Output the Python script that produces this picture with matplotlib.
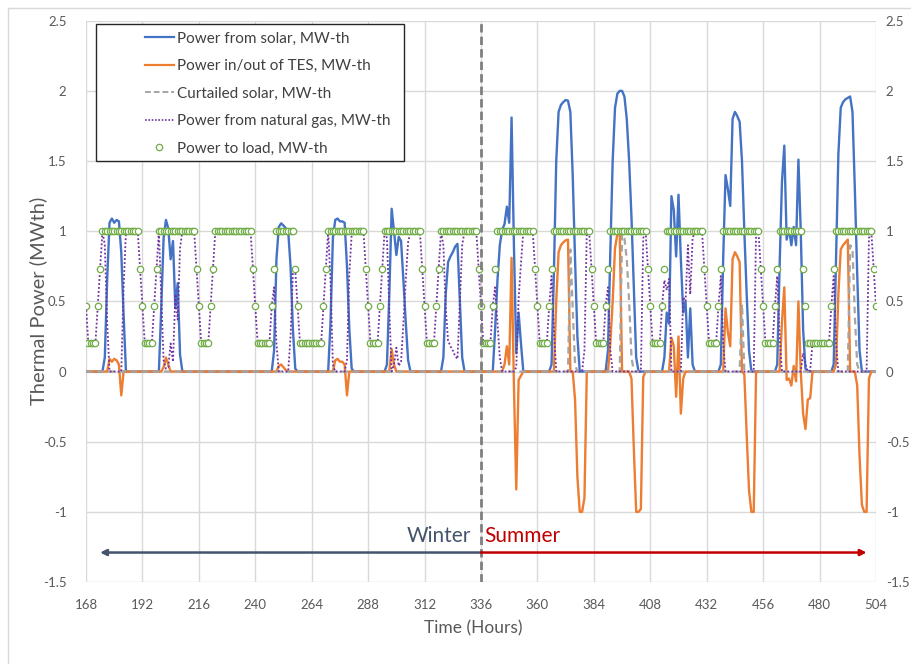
import numpy as np
import matplotlib
matplotlib.use('Agg')
import matplotlib.pyplot as plt
from matplotlib.lines import Line2D
from matplotlib.patches import Rectangle
from matplotlib.ticker import FuncFormatter

plt.rcParams['font.family'] = ['Lato', 'DejaVu Sans']
plt.rcParams['axes.unicode_minus'] = False

# hourly values, one row per day (hours 168..503) plus the last hour 504
hours = np.arange(168, 505)

solar = [
    0, 0, 0, 0, 0, 0, 0, 0, 0.1, 0.65, 1.06, 1.09, 1.06, 1.08, 1.07, 0.85, 0.4, 0, 0, 0, 0, 0, 0, 0,          # 168
    0, 0, 0, 0, 0, 0, 0, 0, 0.45, 0.95, 1.08, 1.02, 0.8, 0.93, 0.45, 0.63, 0.12, 0, 0, 0, 0, 0, 0, 0,        # 192
    0, 0, 0, 0, 0, 0, 0, 0, 0, 0, 0, 0, 0, 0, 0, 0, 0, 0, 0, 0, 0, 0, 0, 0,                                  # 216
    0, 0, 0, 0, 0, 0, 0, 0, 0.15, 0.8, 1.03, 1.056, 1.04, 1.02, 1.0, 0.75, 0.3, 0.02, 0, 0, 0, 0, 0, 0,      # 240
    0, 0, 0, 0, 0, 0, 0, 0, 0.35, 0.95, 1.08, 1.09, 1.07, 1.07, 1.06, 0.75, 0.3, 0.02, 0, 0, 0, 0, 0, 0,     # 264
    0, 0, 0, 0, 0, 0, 0, 0, 0.05, 0.55, 1.16, 1.0, 0.83, 0.96, 0.93, 0.65, 0.35, 0.08, 0, 0, 0, 0, 0, 0,     # 288
    0, 0, 0, 0, 0, 0, 0, 0, 0.1, 0.55, 0.78, 0.82, 0.85, 0.89, 0.91, 0.5, 0.1, 0, 0, 0, 0, 0, 0, 0,          # 312
    0, 0, 0, 0, 0, 0, 0.3, 0.65, 0.9, 1.01, 1.05, 1.175, 1.06, 1.81, 0.9, 0.13, 0.42, 0.2, 0, 0, 0, 0, 0, 0,  # 336
    0, 0, 0, 0, 0, 0, 0.05, 0.7, 1.5, 1.85, 1.9, 1.92, 1.935, 1.93, 1.85, 1.4, 0.8, 0.25, 0, 0, 0, 0, 0, 0,  # 360
    0, 0, 0, 0, 0, 0, 0.15, 0.85, 1.5, 1.88, 1.98, 2.0, 2.0, 1.96, 1.8, 1.5, 1.1, 0.6, 0.1, 0, 0, 0, 0, 0,   # 384
    0, 0, 0, 0, 0, 0, 0.1, 0.42, 0.34, 1.25, 1.15, 0.82, 1.26, 0.8, 0.42, 0.5, 0.1, 0.45, 0.05, 0, 0, 0, 0, 0,  # 408
    0, 0, 0, 0, 0, 0, 0.05, 0.8, 1.4, 1.3, 1.18, 1.8, 1.85, 1.82, 1.78, 1.5, 1.0, 0.55, 0.15, 0, 0, 0, 0, 0,  # 432
    0, 0, 0, 0, 0, 0, 0.05, 0.75, 1.35, 1.61, 0.94, 1.02, 0.9, 1.03, 0.9, 1.51, 1.0, 0.3, 0.02, 0, 0, 0, 0, 0,  # 456
    0, 0, 0, 0, 0, 0, 0.05, 0.8, 1.55, 1.88, 1.92, 1.94, 1.95, 1.96, 1.85, 1.3, 0.7, 0.15, 0, 0, 0, 0, 0, 0,  # 480
    0,
]

tes = [
    0, 0, 0, 0, 0, 0, 0, 0, 0, 0, 0.09, 0.07, 0.09, 0.08, 0.05, -0.17, 0, 0, 0, 0, 0, 0, 0, 0,
    0, 0, 0, 0, 0, 0, 0, 0, 0, 0.03, 0.1, 0.05, 0, 0, 0, 0, 0, 0, 0, 0, 0, 0, 0, 0,
    0, 0, 0, 0, 0, 0, 0, 0, 0, 0, 0, 0, 0, 0, 0, 0, 0, 0, 0, 0, 0, 0, 0, 0,
    0, 0, 0, 0, 0, 0, 0, 0, 0, 0, 0.04, 0.05, 0.03, 0.01, 0, 0, 0, 0, 0, 0, 0, 0, 0, 0,
    0, 0, 0, 0, 0, 0, 0, 0, 0, 0, 0.08, 0.09, 0.07, 0.07, 0.05, -0.17, 0, 0, 0, 0, 0, 0, 0, 0,
    0, 0, 0, 0, 0, 0, 0, 0, 0, 0, 0.16, 0.05, 0, 0, 0, 0, 0, 0, 0, 0, 0, 0, 0, 0,
    0, 0, 0, 0, 0, 0, 0, 0, 0, 0, 0, 0, 0, 0, 0, 0, 0, 0, 0, 0, 0, 0, 0, 0,
    0, 0, 0, 0, 0, 0, 0, 0, 0, 0, 0.05, 0.18, 0.05, 0.81, -0.1, -0.84, -0.06, -0.03, 0, 0, 0, 0, 0, 0,
    0, 0, 0, 0, 0, 0, 0, 0, 0.5, 0.85, 0.9, 0.92, 0.935, 0.94, 0, 0, -0.2, -0.75, -1.0, -1.0, -0.9, 0, 0, 0,
    0, 0, 0, 0, 0, 0, 0, 0.2, 0.5, 0.88, 0.98, 1.0, 0, 0, 0, 0, -0.05, -0.55, -1.0, -1.0, -0.98, -0.04, 0, 0,
    0, 0, 0, 0, 0, 0, 0, 0, 0, 0.24, 0.18, -0.18, 0.25, -0.3, -0.05, 0, 0, 0, 0, 0, 0, 0, 0, 0,
    0, 0, 0, 0, 0, 0, 0, 0, 0.45, 0.28, 0.18, 0.8, 0.85, 0.82, 0.78, 0, -0.02, -0.45, -0.85, -1.0, -1.0, 0, 0, 0,
    0, 0, 0, 0, 0, 0, 0, 0, 0.35, 0.6, -0.06, -0.05, -0.1, 0.04, -0.07, 0.5, 0, -0.3, -0.41, -0.2, -0.19, 0, 0, 0,
    0, 0, 0, 0, 0, 0, 0, 0.05, 0.55, 0.87, 0.9, 0.92, 0.94, 0, 0, 0, -0.1, -0.6, -0.95, -1.0, -1.0, -0.05, 0, 0,
    0,
]

curtailed = [
    0, 0, 0, 0, 0, 0, 0, 0, 0, 0, 0, 0, 0, 0, 0, 0, 0, 0, 0, 0, 0, 0, 0, 0,
    0, 0, 0, 0, 0, 0, 0, 0, 0, 0, 0, 0, 0, 0, 0, 0, 0, 0, 0, 0, 0, 0, 0, 0,
    0, 0, 0, 0, 0, 0, 0, 0, 0, 0, 0, 0, 0, 0, 0, 0, 0, 0, 0, 0, 0, 0, 0, 0,
    0, 0, 0, 0, 0, 0, 0, 0, 0, 0, 0, 0, 0, 0, 0, 0, 0, 0, 0, 0, 0, 0, 0, 0,
    0, 0, 0, 0, 0, 0, 0, 0, 0, 0, 0, 0, 0, 0, 0, 0, 0, 0, 0, 0, 0, 0, 0, 0,
    0, 0, 0, 0, 0, 0, 0, 0, 0, 0, 0, 0, 0, 0, 0, 0, 0, 0, 0, 0, 0, 0, 0, 0,
    0, 0, 0, 0, 0, 0, 0, 0, 0, 0, 0, 0, 0, 0, 0, 0, 0, 0, 0, 0, 0, 0, 0, 0,
    0, 0, 0, 0, 0, 0, 0, 0, 0, 0, 0, 0, 0, 0, 0, 0, 0, 0, 0, 0, 0, 0, 0, 0,
    0, 0, 0, 0, 0, 0, 0, 0, 0, 0, 0, 0, 0, 0, 0.87, 0.45, 0.05, 0, 0, 0, 0, 0, 0, 0,
    0, 0, 0, 0, 0, 0, 0, 0, 0, 0, 0, 0, 0.98, 0.95, 0.8, 0.5, 0.1, 0, 0, 0, 0, 0, 0, 0,
    0, 0, 0, 0, 0, 0, 0, 0, 0, 0, 0, 0, 0, 0, 0, 0, 0, 0, 0, 0, 0, 0, 0, 0,
    0, 0, 0, 0, 0, 0, 0, 0, 0, 0, 0, 0, 0, 0, 0, 0.48, 0, 0, 0, 0, 0, 0, 0, 0,
    0, 0, 0, 0, 0, 0, 0, 0, 0, 0, 0, 0, 0, 0, 0, 0, 0, 0, 0, 0, 0, 0, 0, 0,
    0, 0, 0, 0, 0, 0, 0, 0, 0, 0, 0, 0, 0, 0.9, 0.88, 0.4, 0.05, 0, 0, 0, 0, 0, 0, 0,
    0,
]

gas = [
    0.467, 0.2, 0.2, 0.2, 0.2, 0.467, 0.733, 1.0, 0.9, 0.35, 0, 0, 0, 0, 0, 0, 0.6, 1, 1, 1, 1, 1, 1, 0.733,
    0.467, 0.2, 0.2, 0.2, 0.2, 0.467, 0.733, 1.0, 0.55, 0.08, 0.02, 0.03, 0.2, 0.07, 0.55, 0.37, 0.88, 1, 1, 1, 1, 1, 1, 0.733,
    0.467, 0.2, 0.2, 0.2, 0.2, 0.467, 0.733, 1, 1, 1, 1, 1, 1, 1, 1, 1, 1, 1, 1, 1, 1, 1, 1, 0.733,
    0.467, 0.2, 0.2, 0.2, 0.2, 0.2, 0.2, 0.467, 0.6, 0.2, 0, 0, 0, 0, 0, 0.25, 0.7, 0.72, 0.467, 0.2, 0.2, 0.2, 0.2, 0.2,
    0.2, 0.2, 0.2, 0.2, 0.2, 0.467, 0.733, 1.0, 0.65, 0.05, 0, 0, 0, 0, 0, 0.08, 0.7, 0.98, 1, 1, 1, 1, 1, 0.733,
    0.467, 0.2, 0.2, 0.2, 0.2, 0.467, 0.733, 1.0, 0.95, 0.45, 0, 0.05, 0.17, 0.04, 0.07, 0.35, 0.65, 0.92, 1, 1, 1, 1, 1, 0.733,
    0.467, 0.2, 0.2, 0.2, 0.2, 0.467, 0.733, 1.0, 0.9, 0.45, 0.22, 0.18, 0.15, 0.11, 0.09, 0.5, 0.9, 1, 1, 1, 1, 1, 1, 0.733,
    0.467, 0.2, 0.2, 0.2, 0.2, 0.467, 0.6, 0.35, 0.1, 0, 0, 0, 0, 0, 0, 0.03, 0.52, 0.77, 1, 1, 1, 1, 1, 0.733,
    0.467, 0.2, 0.2, 0.2, 0.2, 0.467, 0.68, 0.3, 0, 0, 0, 0, 0, 0, 0, 0, 0, 0, 0, 0, 0.15, 1, 1, 0.733,
    0.467, 0.2, 0.2, 0.2, 0.2, 0.467, 0.6, 0.15, 0, 0, 0, 0, 0, 0, 0, 0, 0, 0, 0, 0, 0, 0.95, 1, 0.733,
    0.467, 0.2, 0.2, 0.2, 0.2, 0.467, 0.65, 0.58, 0.66, 0, 0, 0, 0, 0, 0.53, 0.5, 0.9, 0.55, 0.95, 1, 1, 1, 1, 0.733,
    0.467, 0.2, 0.2, 0.2, 0.2, 0.467, 0.68, 0.2, 0, 0, 0, 0, 0, 0, 0, 0, 0, 0, 0, 0, 0, 1, 1, 0.733,
    0.467, 0.2, 0.2, 0.2, 0.2, 0.467, 0.68, 0.25, 0, 0, 0, 0, 0, 0, 0, 0, 0, 0.13, 0.05, 0, 0.01, 0.2, 0.2, 0.2,
    0.2, 0.2, 0.2, 0.2, 0.2, 0.467, 0.68, 0.2, 0, 0, 0, 0, 0, 0, 0, 0, 0, 0, 0, 0, 0, 0.95, 1, 0.733,
    0.467,
]

load = [
    0.467, 0.2, 0.2, 0.2, 0.2, 0.467, 0.733, 1, 1, 1, 1, 1, 1, 1, 1, 1, 1, 1, 1, 1, 1, 1, 1, 0.733,
    0.467, 0.2, 0.2, 0.2, 0.2, 0.467, 0.733, 1, 1, 1, 1, 1, 1, 1, 1, 1, 1, 1, 1, 1, 1, 1, 1, 0.733,
    0.467, 0.2, 0.2, 0.2, 0.2, 0.467, 0.733, 1, 1, 1, 1, 1, 1, 1, 1, 1, 1, 1, 1, 1, 1, 1, 1, 0.733,
    0.467, 0.2, 0.2, 0.2, 0.2, 0.2, 0.2, 0.467, 0.733, 1, 1, 1, 1, 1, 1, 1, 1, 0.733, 0.467, 0.2, 0.2, 0.2, 0.2, 0.2,
    0.2, 0.2, 0.2, 0.2, 0.2, 0.467, 0.733, 1, 1, 1, 1, 1, 1, 1, 1, 1, 1, 1, 1, 1, 1, 1, 1, 0.733,
    0.467, 0.2, 0.2, 0.2, 0.2, 0.467, 0.733, 1, 1, 1, 1, 1, 1, 1, 1, 1, 1, 1, 1, 1, 1, 1, 1, 0.733,
    0.467, 0.2, 0.2, 0.2, 0.2, 0.467, 0.733, 1, 1, 1, 1, 1, 1, 1, 1, 1, 1, 1, 1, 1, 1, 1, 1, 0.733,
    0.467, 0.2, 0.2, 0.2, 0.2, 0.467, 0.733, 1, 1, 1, 1, 1, 1, 1, 1, 1, 1, 1, 1, 1, 1, 1, 1, 0.733,
    0.467, 0.2, 0.2, 0.2, 0.2, 0.467, 0.733, 1, 1, 1, 1, 1, 1, 1, 1, 1, 1, 1, 1, 1, 1, 1, 1, 0.733,
    0.467, 0.2, 0.2, 0.2, 0.2, 0.467, 0.733, 1, 1, 1, 1, 1, 1, 1, 1, 1, 1, 1, 1, 1, 1, 1, 1, 0.733,
    0.467, 0.2, 0.2, 0.2, 0.2, 0.467, 0.733, 1, 1, 1, 1, 1, 1, 1, 1, 1, 1, 1, 1, 1, 1, 1, 1, 0.733,
    0.467, 0.2, 0.2, 0.2, 0.2, 0.467, 0.733, 1, 1, 1, 1, 1, 1, 1, 1, 1, 1, 1, 1, 1, 1, 1, 1, 0.733,
    0.467, 0.2, 0.2, 0.2, 0.2, 0.467, 0.733, 1, 1, 1, 1, 1, 1, 1, 1, 1, 1, 0.733, 0.467, 0.2, 0.2, 0.2, 0.2, 0.2,
    0.2, 0.2, 0.2, 0.2, 0.2, 0.467, 0.733, 1, 1, 1, 1, 1, 1, 1, 1, 1, 1, 1, 1, 1, 1, 1, 1, 0.733,
    0.467,
]

x_ticks = list(range(168, 505, 24))
y_ticks = [-1.5, -1, -0.5, 0, 0.5, 1, 1.5, 2, 2.5]
labels = ['Power from solar, MW-th', 'Power in/out of TES, MW-th', 'Curtailed solar, MW-th',
          'Power from natural gas, MW-th', 'Power to load, MW-th']

c_solar = '#4472C4'
c_tes = '#ED7D31'
c_curt = '#A5A5A5'
c_gas = '#7030A0'
c_load = '#70AD47'
c_text = '#595959'
c_grid = '#D9D9D9'

fig = plt.figure(figsize=(9.12, 6.64), dpi=100)
ax = fig.add_axes([86 / 912, 82 / 664, 790 / 912, 561.3 / 664])

ax.plot(hours, solar, color=c_solar, lw=1.7, zorder=3)
ax.plot(hours, tes, color=c_tes, lw=1.7, zorder=3)
ax.plot(hours, curtailed, color=c_curt, lw=1.6, ls=(0, (3, 2)), zorder=3)
ax.plot(hours, gas, color=c_gas, lw=1.3, ls=(0, (1, 1.2)), zorder=3)
ax.plot(hours, load, ls='none', marker='o', ms=4.6, mfc='white', mec=c_load, mew=0.9, zorder=4)

ax.set_xlim(168, 504)
ax.set_ylim(-1.5, 2.5)
ax.set_xticks(x_ticks)
ax.set_yticks(y_ticks)
ax.grid(True, color=c_grid, lw=1)
ax.set_axisbelow(True)
for s in ax.spines.values():
    s.set_visible(False)
fmt = FuncFormatter(lambda v, p: '%g' % v)
ax.yaxis.set_major_formatter(fmt)
ax.tick_params(axis='both', length=0, labelsize=9.5, labelcolor=c_text)
ax.tick_params(axis='x', pad=12)
ax.tick_params(axis='y', pad=14)

ax2 = ax.twinx()
ax2.set_ylim(-1.5, 2.5)
ax2.set_yticks(y_ticks)
ax2.yaxis.set_major_formatter(fmt)
ax2.tick_params(axis='y', length=0, labelsize=9.5, labelcolor=c_text, pad=7)
for s in ax2.spines.values():
    s.set_visible(False)

# winter / summer divider
ax.axvline(336, color='#7F7F7F', lw=2, ls=(0, (3, 1.5)), zorder=5)
ax.annotate('', xy=(174, -1.29), xytext=(336, -1.29),
            arrowprops=dict(arrowstyle='-|>', color='#44546A', lw=1.8, mutation_scale=9,
                            shrinkA=0, shrinkB=0), zorder=5)
ax.annotate('', xy=(500, -1.29), xytext=(336, -1.29),
            arrowprops=dict(arrowstyle='-|>', color='#C00000', lw=1.8, mutation_scale=9,
                            shrinkA=0, shrinkB=0), zorder=5)
ax.text(331.8, -1.17, 'Winter', color='#44546A', fontsize=15, ha='right', va='center')
ax.text(337.2, -1.17, 'Summer', color='#C00000', fontsize=15, ha='left', va='center')

# legend with a hand-drawn frame
frame = Rectangle((10 / 790, 421 / 561.3), 308 / 790, 137 / 561.3, transform=ax.transAxes,
                  facecolor='white', edgecolor='#262626', lw=1, zorder=6, clip_on=False)
ax.add_patch(frame)
handles = [
    Line2D([], [], color=c_solar, lw=1.6),
    Line2D([], [], color=c_tes, lw=1.6),
    Line2D([], [], color=c_curt, lw=1.4, ls=(0, (3, 1.5))),
    Line2D([], [], color=c_gas, lw=1.2, ls=(0, (1, 1))),
    Line2D([], [], ls='none', marker='o', ms=4.6, mfc='white', mec=c_load, mew=0.9),
]
leg = ax.legend(handles, labels, loc='upper left', bbox_to_anchor=(51 / 790, 558 / 561.3),
                frameon=False, borderpad=0, handlelength=1.9, handletextpad=0.25,
                labelspacing=0.88, fontsize=11, labelcolor='#404040')
leg.set_zorder(7)

fig.text(38 / 912, 1 - 301 / 664, 'Thermal Power (MWth)', rotation=90, ha='center', va='center',
         fontsize=14.5, color=c_text)
fig.text(473 / 912, 1 - 628 / 664, 'Time (Hours)', ha='center', va='center', fontsize=12.5, color=c_text)

# thin outer chart border (left and top)
fig.add_artist(Line2D([8 / 912, 8 / 912], [0, 1 - 8 / 664], color=c_grid, lw=1))
fig.add_artist(Line2D([8 / 912, 1], [1 - 8 / 664, 1 - 8 / 664], color=c_grid, lw=1))

fig.savefig('out.png', dpi=100)
